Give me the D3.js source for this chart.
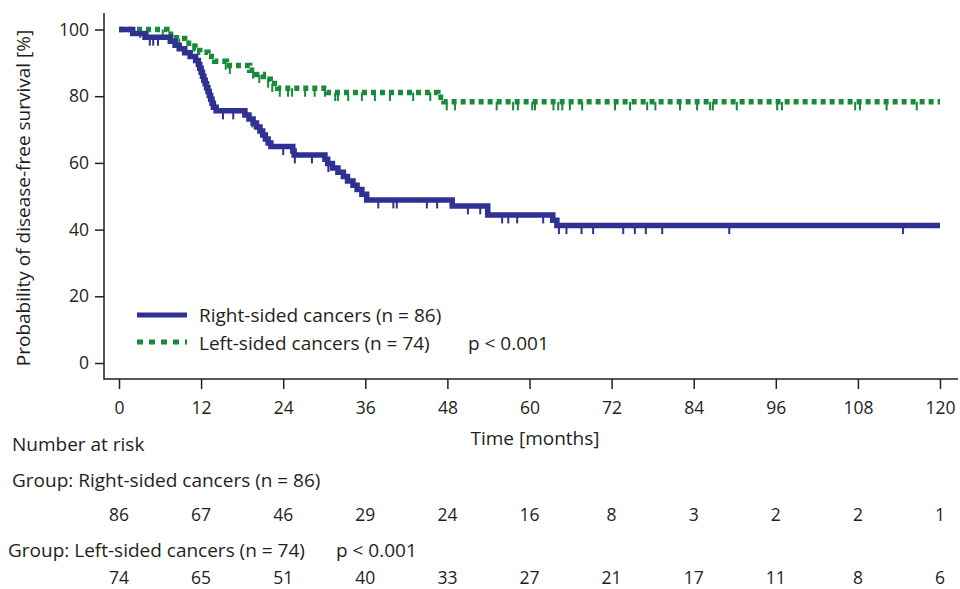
<!DOCTYPE html>
<html lang="en">
<head>
<meta charset="utf-8" />
<title>Disease-free survival</title>
<script src="https://d3js.org/d3.v7.min.js"></script>
<style>
  body { margin: 0; background: #fff; }
  text { font-family: "Open Sans", Lato, sans-serif; fill: #231f20; }
</style>
</head>
<body>
<div id="svgContainer"></div>
<script>
// step curves (time in months, survival in %)
var rightTime = [0, 2.0, 3.8, 7.5, 8.2, 8.8, 9.6, 10.4, 11.2, 11.6, 11.8, 12.0, 12.2, 12.4, 12.6, 12.8, 13.0, 13.2, 13.4, 13.6, 13.8, 14.2,
                 18.4, 19.0, 19.6, 20.1, 20.6, 21.0, 21.4, 21.8, 22.2, 25.4, 25.6, 30.1, 30.5, 31.2, 32.0, 32.8, 33.4, 34.2, 34.8, 35.5, 36.2,
                 48.7, 53.9, 63.4, 64.0, 120];
var rightSurv = [100, 98.8, 97.7, 96.5, 95.3, 94.2, 93.0, 91.9, 90.7, 89.5, 88.4, 87.2, 86.0, 84.8, 83.7, 82.5, 81.4, 80.2, 79.1, 77.9, 76.7, 75.6,
                 74.4, 73.2, 72.0, 70.8, 69.6, 68.4, 67.2, 66.0, 64.9, 63.6, 62.4, 61.1, 59.8, 58.5, 57.2, 55.9, 54.6, 53.3, 52.0, 50.6, 48.9,
                 47.1, 44.4, 42.8, 41.2, 41.2];
var rightCensor = [4.5, 5.0, 5.7, 15.2, 16.7, 19.5, 24.0, 25.7, 28.2, 30.6, 37.9, 40.1, 40.6, 45.0, 46.5, 51.0, 52.8, 56.0, 56.9, 58.2, 62.0,
                   64.3, 65.4, 67.6, 69.3, 73.7, 75.4, 77.0, 79.4, 89.2, 114.6];

var leftTime = [0, 7.0, 8.4, 9.6, 11.1, 11.8, 13.0, 14.0, 15.7, 19.1, 20.1, 21.1, 22.1, 23.2, 30.4, 46.6, 47.5, 120];
var leftSurv = [100, 98.6, 97.3, 95.9, 94.6, 93.2, 91.9, 90.5, 89.2, 87.8, 86.5, 85.1, 83.8, 82.4, 81.1, 79.7, 78.3, 78.3];
var leftCensor = [3.1, 4.2, 6.4, 8.8, 11.0, 15.6, 16.2, 19.6, 20.5, 21.8, 22.4, 23.5, 24.7, 25.3, 27.2, 28.6, 30.1, 31.6, 32.0, 33.5,
                  35.5, 37.4, 39.6, 43.0, 45.5, 47.9, 49.1, 55.2, 57.6, 58.3, 60.4, 60.8, 63.5, 64.2, 64.8, 65.9, 67.7, 72.5, 74.7,
                  77.2, 78.4, 82.0, 84.5, 86.4, 86.8, 90.3, 96.2, 96.9, 107.6, 108.3, 112.2, 116.6];

var xTicks = [0, 12, 24, 36, 48, 60, 72, 84, 96, 108, 120];
var yTicks = [0, 20, 40, 60, 80, 100];
var riskRight = [86, 67, 46, 29, 24, 16, 8, 3, 2, 2, 1];
var riskLeft = [74, 65, 51, 40, 33, 27, 21, 17, 11, 8, 6];

var width = 960,
    height = 589,
    blue = "#2e3192",
    green = "#178a3c",
    fs = 19,      // words
    fn = 17.5;    // numbers

var svg = d3.select("#svgContainer")
            .append("svg")
            .attr("width", width)
            .attr("height", height);

var x = d3.scaleLinear().domain([0, 120]).range([119, 940]);
var y = d3.scaleLinear().domain([0, 100]).range([363, 29.5]);

// axes
var yAxis = svg.append("g")
    .attr("transform", "translate(104,0)")
    .call(d3.axisLeft(y).tickValues(yTicks).tickSize(9).tickPadding(6));
var xAxis = svg.append("g")
    .attr("transform", "translate(0,379)")
    .call(d3.axisBottom(x).tickValues(xTicks).tickSize(10).tickPadding(13));
[yAxis, xAxis].forEach(function(g) {
  g.select(".domain").remove();
  g.selectAll(".tick line").attr("stroke", "#231f20").attr("stroke-width", 1.5);
  g.selectAll("text").style("font-size", fn + "px").style("font-family", null).attr("fill", "#231f20");
});
svg.append("path")
    .attr("d", "M104,13V379H958")
    .attr("fill", "none")
    .attr("stroke", "#231f20")
    .attr("stroke-width", 1.5);

svg.append("text")
    .attr("transform", "translate(30,198) rotate(-90)")
    .attr("text-anchor", "middle")
    .style("font-size", fs + "px")
    .text("Probability of disease-free survival [%]");

svg.append("text")
    .attr("x", 535).attr("y", 445)
    .attr("text-anchor", "middle")
    .style("font-size", fs + "px")
    .text("Time [months]");

// curves
var line = d3.line()
    .x(function(d) { return x(d[0]); })
    .y(function(d) { return y(d[1]); })
    .curve(d3.curveStepAfter);

function survAt(times, surv, t) {
  var i = d3.bisectRight(times, t) - 1;
  return surv[Math.max(0, i)];
}

function drawCurve(times, surv, censor, color, dash) {
  var pts = times.map(function(t, i) { return [t, surv[i]]; });
  svg.append("g")
    .selectAll("line")
    .data(censor)
    .enter().append("line")
    .attr("x1", function(d) { return x(d); })
    .attr("x2", function(d) { return x(d); })
    .attr("y1", function(d) { return y(survAt(times, surv, d)); })
    .attr("y2", function(d) { return y(survAt(times, surv, d)) + 8.5; })
    .attr("stroke", color)
    .attr("stroke-width", 2);
  svg.append("path")
    .datum(pts)
    .attr("d", line)
    .attr("fill", "none")
    .attr("stroke", color)
    .attr("stroke-width", 5.5)
    .attr("stroke-dasharray", dash);
}

drawCurve(leftTime, leftSurv, leftCensor, green, "5,4");
drawCurve(rightTime, rightSurv, rightCensor, blue, null);

// legend
var legend = svg.append("g");
legend.append("line")
    .attr("x1", 137).attr("x2", 187).attr("y1", 315).attr("y2", 315)
    .attr("stroke", blue).attr("stroke-width", 5);
legend.append("line")
    .attr("x1", 137).attr("x2", 187).attr("y1", 342).attr("y2", 342)
    .attr("stroke", green).attr("stroke-width", 5).attr("stroke-dasharray", "6,6");
legend.append("text").attr("x", 199).attr("y", 322).style("font-size", fs + "px")
    .text("Right-sided cancers (n = 86)");
legend.append("text").attr("x", 199).attr("y", 350).style("font-size", fs + "px")
    .text("Left-sided cancers (n = 74)");
legend.append("text").attr("x", 468).attr("y", 350).style("font-size", fs + "px")
    .text("p < 0.001");

// number at risk table
var table = svg.append("g").style("font-size", fs + "px");
table.append("text").attr("x", 12).attr("y", 451).text("Number at risk");
table.append("text").attr("x", 12).attr("y", 487).text("Group: Right-sided cancers (n = 86)");
table.append("text").attr("x", 8).attr("y", 557).text("Group: Left-sided cancers (n = 74)");
table.append("text").attr("x", 336).attr("y", 557).text("p < 0.001");

table.selectAll("text.r1")
    .data(riskRight)
    .enter().append("text")
    .attr("class", "r1")
    .attr("x", function(d, i) { return x(xTicks[i]); })
    .attr("y", 521)
    .attr("text-anchor", "middle")
    .style("font-size", fn + "px")
    .text(function(d) { return d; });

table.selectAll("text.r2")
    .data(riskLeft)
    .enter().append("text")
    .attr("class", "r2")
    .attr("x", function(d, i) { return x(xTicks[i]); })
    .attr("y", 584)
    .attr("text-anchor", "middle")
    .style("font-size", fn + "px")
    .text(function(d) { return d; });
</script>
</body>
</html>
